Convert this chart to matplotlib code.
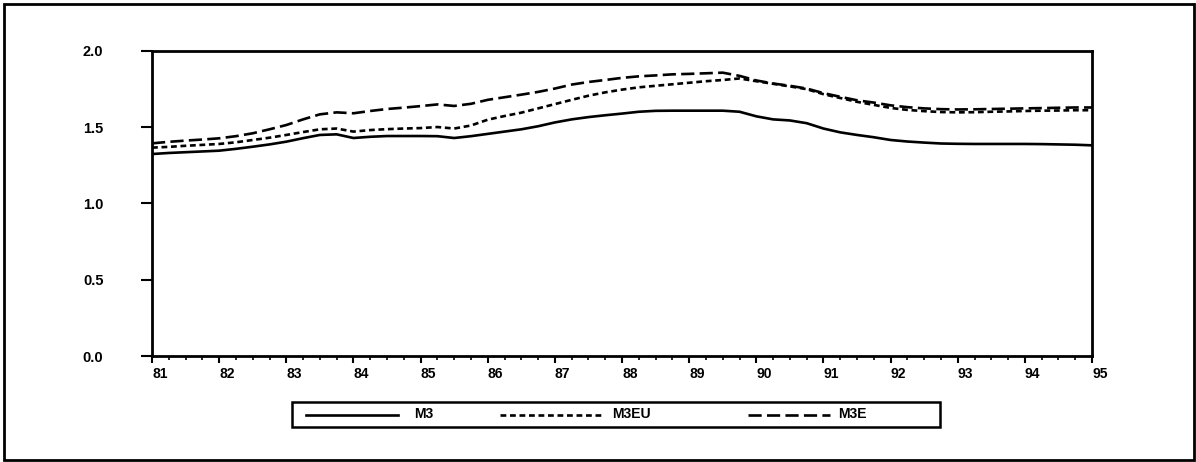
import numpy as np
import matplotlib
matplotlib.use('Agg')
import matplotlib.pyplot as plt
from matplotlib.lines import Line2D
from matplotlib.patches import Rectangle

plt.rcParams['font.family'] = ['Liberation Sans Narrow', 'Liberation Sans', 'DejaVu Sans']

# quarterly observations, 1981Q1 .. 1995Q1
years = np.arange(57) / 4 + 81

m3 = [1.323, 1.330, 1.335, 1.340, 1.345, 1.357, 1.371, 1.386, 1.404, 1.427,
      1.448, 1.452, 1.428, 1.436, 1.441, 1.441, 1.441, 1.440, 1.428, 1.440,
      1.455, 1.470, 1.485, 1.505, 1.530, 1.550, 1.565, 1.577, 1.588, 1.600,
      1.606, 1.607, 1.607, 1.607, 1.607, 1.600, 1.570, 1.550, 1.543, 1.525,
      1.490, 1.465, 1.448, 1.433, 1.415, 1.405, 1.398, 1.392, 1.390, 1.389,
      1.389, 1.389, 1.389, 1.388, 1.386, 1.384, 1.380]

m3eu = [1.365, 1.370, 1.377, 1.383, 1.389, 1.400, 1.415, 1.430, 1.448, 1.467,
        1.485, 1.490, 1.470, 1.480, 1.486, 1.490, 1.493, 1.500, 1.490, 1.510,
        1.548, 1.572, 1.594, 1.622, 1.650, 1.678, 1.705, 1.727, 1.745, 1.760,
        1.770, 1.780, 1.790, 1.800, 1.808, 1.818, 1.800, 1.783, 1.766, 1.748,
        1.715, 1.690, 1.665, 1.645, 1.625, 1.612, 1.604, 1.598, 1.596, 1.597,
        1.600, 1.602, 1.605, 1.607, 1.608, 1.610, 1.610]

m3e = [1.393, 1.403, 1.411, 1.418, 1.426, 1.440, 1.459, 1.485, 1.513, 1.550,
       1.583, 1.596, 1.590, 1.605, 1.618, 1.627, 1.637, 1.648, 1.638, 1.652,
       1.678, 1.695, 1.712, 1.730, 1.752, 1.778, 1.795, 1.808, 1.822, 1.832,
       1.838, 1.845, 1.848, 1.852, 1.856, 1.835, 1.805, 1.785, 1.770, 1.752,
       1.722, 1.698, 1.675, 1.660, 1.642, 1.630, 1.622, 1.617, 1.615, 1.616,
       1.618, 1.620, 1.622, 1.624, 1.626, 1.628, 1.628]

series_names = ['M3', 'M3EU', 'M3E']
year_ticks = list(range(81, 96))
y_ticks = [0.0, 0.5, 1.0, 1.5, 2.0]

styles = [dict(color='black', lw=1.9),
          dict(color='black', lw=1.9, dashes=(2.2, 1.4)),
          dict(color='black', lw=1.9, dashes=(5.0, 2.0))]

W, H = 1196, 462
fig = plt.figure(figsize=(W / 100, H / 100), dpi=100)
ax = fig.add_axes([0.1271, 0.2294, 0.786, 0.6609])

for vals, st in zip([m3, m3eu, m3e], styles):
    ax.plot(years, vals, **st)

ax.set_xlim(81, 95)
ax.set_ylim(0, 2)
ax.set_xticks(year_ticks)
ax.set_xticklabels([str(y) for y in year_ticks], ha='left')
ax.set_xticks(np.arange(81, 95.01, 0.25), minor=True)
ax.set_yticks(y_ticks)
ax.set_yticklabels(['%.1f' % v for v in y_ticks])

for s in ax.spines.values():
    s.set_linewidth(2)
ax.tick_params(axis='x', direction='out', length=5, width=1.5, pad=3,
               labelsize=10)
ax.tick_params(axis='x', which='minor', direction='out', length=3, width=1.2)
ax.tick_params(axis='y', direction='out', length=8, width=1.5, pad=27,
               labelsize=10.5)
for lab in ax.get_xticklabels() + ax.get_yticklabels():
    lab.set_fontweight('bold')

# outer frame
fig.patches.append(Rectangle((0.0035, 0.0045), 0.9945, 0.9865, transform=fig.transFigure,
                             fill=False, lw=2, ec='black'))

# legend box, drawn by hand (pixel positions from the reference)
fig.patches.append(Rectangle((292 / W, 1 - 427 / H), (940 - 292) / W, 25 / H,
                             transform=fig.transFigure, fill=False, lw=1.8, ec='black'))
ly = 1 - 414.5 / H
samples = [(306, 398, 414), (500, 604, 612), (748, 830, 838)]
for (x0, x1, xt), name, st in zip(samples, series_names, styles):
    fig.lines.append(Line2D([x0 / W, x1 / W], [ly, ly], transform=fig.transFigure, **st))
    fig.text(xt / W, ly, name, ha='left', va='center', fontsize=10, fontweight='bold')

fig.savefig('out.png', dpi=100)
